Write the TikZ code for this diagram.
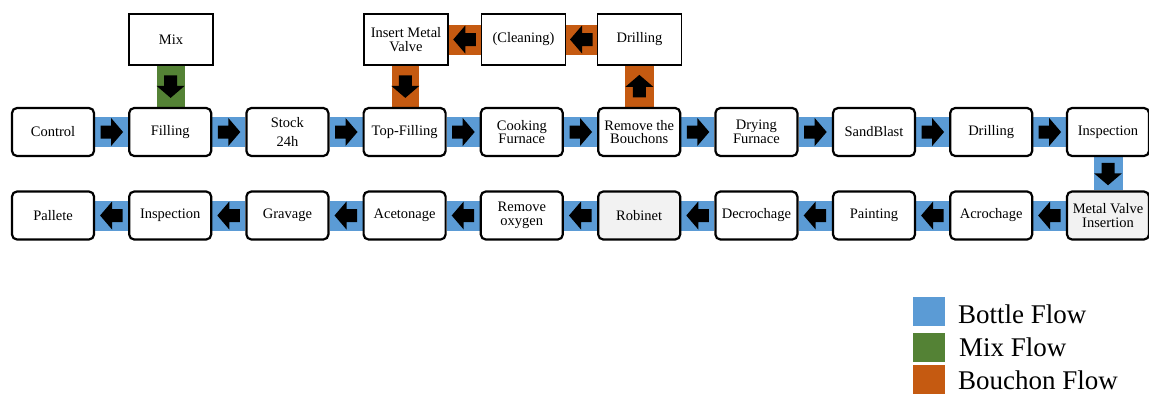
\documentclass[tikz,border=0pt]{standalone}
\usepackage{fontspec}
\setmainfont{Liberation Serif}
\usetikzlibrary{calc}
\definecolor{bflow}{HTML}{5B9BD5}
\definecolor{mflow}{HTML}{548235}
\definecolor{oflow}{HTML}{C55A11}
\definecolor{gfill}{HTML}{F2F2F2}
\pgfdeclarelayer{bg}
\pgfsetlayers{bg,main}
\tikzset{
  proc/.style={draw=black, line width=2.2pt, rounded corners=5pt, fill=white,
    minimum width=82pt, minimum height=48pt, align=center, inner sep=1pt,
    font=\fontsize{14.5}{13.5}\selectfont},
  topbox/.style={draw=black, line width=1.8pt, fill=white,
    minimum width=84pt, minimum height=51pt, align=center, inner sep=1pt,
    font=\fontsize{14.5}{13.5}\selectfont},
  grayproc/.style={proc, fill=gfill},
  legsq/.style={minimum width=32pt, minimum height=29pt, inner sep=0pt},
  legtxt/.style={font=\fontsize{27}{27}\selectfont, inner sep=0pt},
}
\newcommand\blkarrow[2]{\fill[black, shift={#1}, rotate=#2]
  (-11,-6.5) -- (-0.5,-6.5) -- (-0.5,-14) -- (11.5,0) -- (-0.5,14) -- (-0.5,6.5) -- (-11,6.5) -- cycle;}
% horizontal flow: from anchor, to anchor, colour, angle
\newcommand\flowh[4]{%
  \begin{pgfonlayer}{bg}\fill[#3] ($(#1)+(0,-15)$) rectangle ($(#2)+(0,15)$);\end{pgfonlayer}
  \blkarrow{($(#1)!0.5!(#2)$)}{#4}}
\newcommand\flowv[4]{%
  \begin{pgfonlayer}{bg}\fill[#3] ($(#1)+(-14.5,0)$) rectangle ($(#2)+(14.5,0)$);\end{pgfonlayer}
  \blkarrow{($(#1)!0.5!(#2)$)}{#4}}
\begin{document}
\begin{tikzpicture}[x=1pt, y=-1pt]
\useasboundingbox (0,0) rectangle (1149,394);
% row 1
\node[proc] (r1) at (53,132) {Control};
\node[proc] (r2) at (170.2,132) {Filling};
\node[proc] (r3) at (287.4,132) {Stock\\[6pt]24h};
\node[proc] (r4) at (404.6,132) {Top-Filling};
\node[proc] (r5) at (521.8,132) {Cooking\\Furnace};
\node[proc] (r6) at (639.2,132) {Remove the\\Bouchons};
\node[proc] (r7) at (756.4,132) {Drying\\Furnace};
\node[proc] (r8) at (874,132) {SandBlast};
\node[proc] (r9) at (991.2,132) {Drilling};
\node[proc] (r10) at (1108,132) {Inspection};
% row 2
\node[proc] (s1) at (53,215.5) {Pallete};
\node[proc] (s2) at (170.2,215.5) {Inspection};
\node[proc] (s3) at (287.4,215.5) {Gravage};
\node[proc] (s4) at (404.6,215.5) {Acetonage};
\node[proc] (s5) at (521.8,215.5) {Remove\\oxygen};
\node[grayproc] (s6) at (639.2,215.5) {Robinet};
\node[proc] (s7) at (756.4,215.5) {Decrochage};
\node[proc] (s8) at (874,215.5) {Painting};
\node[proc] (s9) at (991.2,215.5) {Acrochage};
\node[grayproc] (s10) at (1108,215.5) {Metal Valve\\Insertion};
% top boxes
\node[topbox] (mix) at (171,39.5) {Mix};
\node[topbox] (imv) at (406,39.5) {Insert Metal\\Valve};
\node[topbox] (cln) at (523.5,39.5) {(Cleaning)};
\node[topbox] (drl) at (639.5,39.5) {Drilling};
% bottle flow row 1
\flowh{r1.east}{r2.west}{bflow}{0}
\flowh{r2.east}{r3.west}{bflow}{0}
\flowh{r3.east}{r4.west}{bflow}{0}
\flowh{r4.east}{r5.west}{bflow}{0}
\flowh{r5.east}{r6.west}{bflow}{0}
\flowh{r6.east}{r7.west}{bflow}{0}
\flowh{r7.east}{r8.west}{bflow}{0}
\flowh{r8.east}{r9.west}{bflow}{0}
\flowh{r9.east}{r10.west}{bflow}{0}
\flowv{r10.south}{s10.north}{bflow}{-90}
% bottle flow row 2
\flowh{s10.west}{s9.east}{bflow}{180}
\flowh{s9.west}{s8.east}{bflow}{180}
\flowh{s8.west}{s7.east}{bflow}{180}
\flowh{s7.west}{s6.east}{bflow}{180}
\flowh{s6.west}{s5.east}{bflow}{180}
\flowh{s5.west}{s4.east}{bflow}{180}
\flowh{s4.west}{s3.east}{bflow}{180}
\flowh{s3.west}{s2.east}{bflow}{180}
\flowh{s2.west}{s1.east}{bflow}{180}
% mix flow
\flowv{mix.south}{r2.north}{mflow}{-90}
% bouchon flow
\flowv{r6.north}{drl.south}{oflow}{90}
\flowh{drl.west}{cln.east}{oflow}{180}
\flowh{cln.west}{imv.east}{oflow}{180}
\flowv{imv.south}{r4.north}{oflow}{-90}
% legend
\node[legsq, fill=bflow] (lb) at (929,311.5) {};
\node[legsq, fill=mflow] (lm) at (929,347.5) {};
\node[legsq, fill=oflow] (lo) at (929,379.5) {};
\node[legtxt, anchor=base west] (tb) at (958,323) {Bottle Flow};
\node[legtxt, anchor=base west] (tm) at (959,356) {Mix Flow};
\node[legtxt, anchor=base west] (to) at (958,389) {Bouchon Flow};
\end{tikzpicture}
\end{document}
